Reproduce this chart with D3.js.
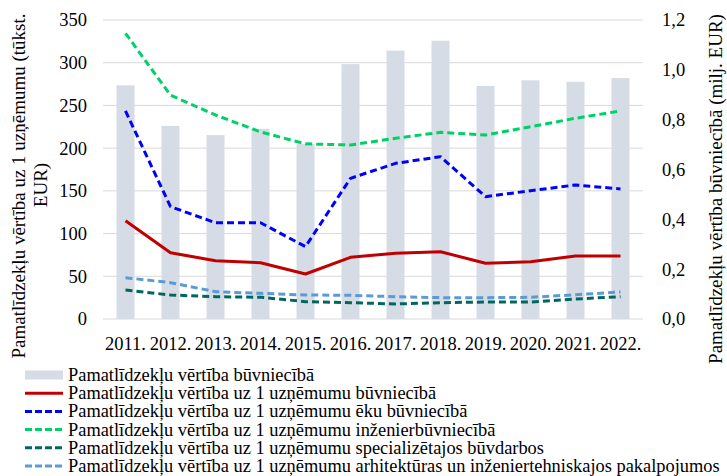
<!DOCTYPE html>
<html>
<head>
<meta charset="utf-8">
<script src="https://cdn.jsdelivr.net/npm/d3@7"></script>
<style>
  body { margin: 0; background: #fff; }
  svg { display: block; font-family: "Liberation Serif", "Times New Roman", serif; }
</style>
</head>
<body>
<svg width="727" height="476"></svg>
<script>
const years = ["2011.", "2012.", "2013.", "2014.", "2015.", "2016.", "2017.", "2018.", "2019.", "2020.", "2021.", "2022."];

// bars, milj. EUR (right axis)
const totalValue = [0.938, 0.775, 0.738, 0.763, 0.702, 1.023, 1.077, 1.117, 0.935, 0.958, 0.952, 0.967];

// lines, tūkst. EUR per company (left axis)
const perCompany = [115, 77.6, 68.3, 65.9, 52.7, 72.2, 76.9, 78.8, 65.2, 67.1, 73.7, 73.7];
const buildings = [243.5, 131.5, 112.7, 112.7, 84.7, 164.7, 182.2, 190, 143.2, 150.2, 156.9, 152.2];
const civilEng = [334.4, 262, 238.8, 219, 205, 203.7, 211.5, 218.5, 215.4, 225, 235, 243.5];
const specialised = [34, 28.1, 26.1, 25.5, 20.3, 19.1, 17.6, 19.1, 19.9, 19.9, 23.4, 26.1];
const architecture = [48.4, 42.5, 32, 30, 28.1, 27.7, 26.1, 25, 25, 25.4, 28.4, 31.6];

const leftTicks = [0, 50, 100, 150, 200, 250, 300, 350];
const rightTicks = [0, 0.2, 0.4, 0.6, 0.8, 1.0, 1.2];

const barLabel = "Pamatlīdzekļu vērtība būvniecībā";
const series = [
  {name: "Pamatlīdzekļu vērtība uz 1 uzņēmumu būvniecībā", values: perCompany, color: "#c00000", dash: null},
  {name: "Pamatlīdzekļu vērtība uz 1 uzņēmumu ēku būvniecībā", values: buildings, color: "#0000ff", dash: "7,4"},
  {name: "Pamatlīdzekļu vērtība uz 1 uzņēmumu inženierbūvniecībā", values: civilEng, color: "#00d068", dash: "7,4"},
  {name: "Pamatlīdzekļu vērtība uz 1 uzņēmumu specializētajos būvdarbos", values: specialised, color: "#00665e", dash: "7,4"},
  {name: "Pamatlīdzekļu vērtība uz 1 uzņēmumu arhitektūras un inženiertehniskajos pakalpojumos", values: architecture, color: "#5b9bd5", dash: "7,4"}
];

const fs = 18.5;
const svg = d3.select("svg");
const margin = {left: 103, right: 84, top: 20, bottom: 157};
const width = 727 - margin.left - margin.right,
    height = 476 - margin.top - margin.bottom;

const g = svg.append("g").attr("transform", `translate(${margin.left},${margin.top})`);

const x = d3.scaleBand().domain(years).range([0, width]).paddingInner(0.6).paddingOuter(0.3);
const yL = d3.scaleLinear().domain([0, 350]).range([height, 0]);
const yR = d3.scaleLinear().domain([0, 1.2]).range([height, 0]);

// gridlines
g.selectAll(".grid").data(leftTicks).join("line")
    .attr("x1", 0).attr("x2", width)
    .attr("y1", d => yL(d)).attr("y2", d => yL(d))
    .attr("stroke", "#d9d9d9").attr("stroke-width", 1);

// bars
g.selectAll(".bar").data(totalValue).join("rect")
    .attr("x", (d, i) => x(years[i]))
    .attr("width", x.bandwidth())
    .attr("y", d => yR(d))
    .attr("height", d => height - yR(d))
    .attr("fill", "#d6dce5");

// lines
const line = d3.line()
    .x((d, i) => x(years[i]) + x.bandwidth() / 2)
    .y(d => yL(d));

series.forEach(s => {
    g.append("path")
        .datum(s.values)
        .attr("d", line)
        .attr("fill", "none")
        .attr("stroke", s.color)
        .attr("stroke-width", 3)
        .attr("stroke-dasharray", s.dash)
        .attr("stroke-linejoin", "round");
});

// axes
const fmtR = d => d.toFixed(1).replace(".", ",");
const axL = g.append("g").call(d3.axisLeft(yL).tickValues(leftTicks).tickSize(0).tickPadding(16));
const axR = g.append("g").attr("transform", `translate(${width},0)`)
    .call(d3.axisRight(yR).tickValues(rightTicks).tickFormat(fmtR).tickSize(0).tickPadding(19));
const axX = g.append("g").attr("transform", `translate(0,${height})`)
    .call(d3.axisBottom(x).tickSize(0).tickPadding(18));
[axL, axR, axX].forEach(a => {
    a.select(".domain").remove();
    a.selectAll("text").attr("font-family", "Liberation Serif").attr("font-size", fs).attr("fill", "#000");
});

// axis titles
svg.append("text")
    .attr("transform", "translate(25,186) rotate(-90)")
    .attr("text-anchor", "middle")
    .attr("font-size", 19)
    .text("Pamatlīdzekļu vērtība uz 1 uzņēmumu (tūkst.");
svg.append("text")
    .attr("transform", "translate(47,185) rotate(-90)")
    .attr("text-anchor", "middle")
    .attr("font-size", 19)
    .text("EUR)");
svg.append("text")
    .attr("transform", "translate(722,189) rotate(-90)")
    .attr("text-anchor", "middle")
    .attr("font-size", 19)
    .text("Pamatlīdzekļu vērtība būvniecībā (milj. EUR)");

// legend
const leg = svg.append("g").attr("transform", "translate(25,375)");
const rowH = 18.2;
leg.append("rect").attr("x", 0).attr("y", -4.5).attr("width", 38).attr("height", 9).attr("fill", "#d6dce5");
leg.append("text").attr("x", 43).attr("y", 0).attr("dy", "0.33em").attr("font-size", 18.4).text(barLabel);
series.forEach((s, i) => {
    const yy = (i + 1) * rowH;
    leg.append("line")
        .attr("x1", 0).attr("x2", 38).attr("y1", yy).attr("y2", yy)
        .attr("stroke", s.color).attr("stroke-width", 3)
        .attr("stroke-dasharray", s.dash ? "7,3" : null);
    leg.append("text").attr("x", 43).attr("y", yy).attr("dy", "0.33em")
        .attr("font-size", 18.4).text(s.name);
});
</script>
</body>
</html>
